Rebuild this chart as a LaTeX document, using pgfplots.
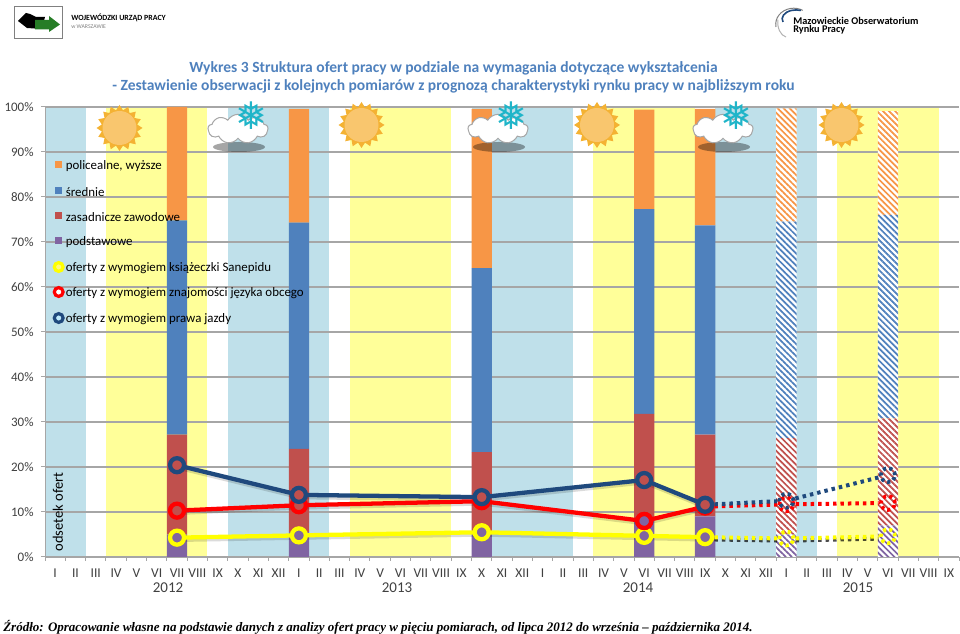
\documentclass[border=0pt]{standalone}
\usepackage{fontspec}
\setmainfont{Carlito}
\newfontfamily\srcfont{Liberation Serif}
\newfontfamily\symfont{DejaVu Sans}
\usepackage{pgfplots}
\usepackage{pgfplotstable}
\pgfplotsset{compat=1.18}
\usetikzlibrary{patterns.meta,shapes.geometric,shapes.symbols}

\definecolor{bandblue}{HTML}{BFE0EA}
\definecolor{bandyellow}{HTML}{FFFF99}
\definecolor{cpol}{HTML}{F79646}
\definecolor{csre}{HTML}{4F81BD}
\definecolor{czas}{HTML}{C0504D}
\definecolor{cpod}{HTML}{8064A2}
\definecolor{lblue}{HTML}{1F497D}
\definecolor{lred}{HTML}{FF0000}
\definecolor{lyellow}{HTML}{FFFF00}
\definecolor{titleblue}{HTML}{4F81BD}
\definecolor{gridgray}{HTML}{A6A6A6}
\definecolor{ticktext}{HTML}{404040}
\definecolor{sunout}{HTML}{F4B233}
\definecolor{sunin}{HTML}{F9C66E}
\definecolor{flake}{HTML}{1FB5C9}

% 1px of the reference = 0.75pt
\def\pxu{0.75pt}
\newcommand{\fs}[1]{\fontsize{\the\dimexpr#1pt*3/4\relax}{\the\dimexpr#1pt*9/10\relax}\selectfont}

\pgfplotstableread{
x pod zas sre pol
6  5.0 22.2 47.6 25.2
12 5.5 18.5 50.3 25.3
21 5.0 18.3 40.9 35.4
29 8.4 23.4 45.5 22.1
32 9.0 18.2 46.5 25.9
}\solidbars
\pgfplotstableread{
x pod zas sre pol
36 5.0 21.4 48.1 25.2
41 7.0 23.8 45.2 23.1
}\forecastbars
\pgfplotstableread{
x blue red yellow
6  20.4 10.3 4.3
12 13.8 11.5 4.8
21 13.3 12.4 5.5
29 17.1  8.0 4.7
32 11.6 11.2 4.4
}\solidlines
\pgfplotstableread{
x blue red yellow
32 11.6 11.2 4.4
36 12.5 11.7 4.1
}\fcA
\pgfplotstableread{
x blue red yellow
36 12.5 11.7 4.1
41 18.2 12.0 4.6
}\fcB

\pgfplotsset{
  frame/.style={at={(33.75pt,57.75pt)},anchor=south west,scale only axis,width=685.5pt,height=337.5pt,
    xmin=-0.5,xmax=44.5,ymin=0,ymax=100},
  band/.style={draw=none,fill=#1},
  solidbar/.style={draw=none,fill=#1},
  hatchbar/.style={draw=none,fill=white,
    postaction={pattern={Lines[angle=-45,distance=3.2pt,line width=1.3pt]},pattern color=#1}},
  solidline/.style={line width=3.2pt,color=#1,mark=*,mark size=5.25pt,mark options={line width=3.1pt}},
  shadowline/.style={line width=3.4pt,black,opacity=0.14,no marks,shift={(0.4pt,-1.6pt)}},
  fcline/.style={line width=3pt,color=#1,no marks,
    dash pattern=on 2.6pt off 3pt,shorten >=7pt,shorten <=7pt},
  fcshadow/.style={line width=3pt,black,opacity=0.7,no marks,shift={(0pt,-1.6pt)},
    dash pattern=on 2.6pt off 3pt,shorten >=7pt,shorten <=7pt},
  fcmark/.style={only marks,mark=o,mark size=5.25pt,color=#1,
    mark options={line width=2.8pt,dash pattern=on 2.4pt off 2.4pt}},
}

\newcommand{\sunicon}[2]{%
  \node[star,star points=16,star point ratio=1.28,minimum size=34.5pt,inner sep=0pt,fill=sunout,draw=none] at (#1,#2) {};
  \fill[sunin] (#1,#2) circle (17);
}
\newcommand{\cloudicon}[2]{%
  \fill[black,opacity=0.35] (#1+1,#2-18) ellipse (26 and 5);
  \node[cloud,cloud puffs=9,cloud puff arc=120,aspect=2.6,minimum width=45pt,minimum height=22pt,inner sep=0pt,
    fill=white,draw=gray!70,line width=0.75pt] at (#1,#2) {};
  \node[text=flake,inner sep=0pt] at (#1+13.5,#2+13) {\symfont\fs{38}❅};
}

\begin{document}
\begin{tikzpicture}[x=\pxu,y=\pxu]
\path[use as bounding box] (0,0) rectangle (960,634);

% logos
\draw[gray,line width=0.75pt,fill=white] (14,595) rectangle (62,627);
\fill[black] (18,613) -- (26,621) -- (30,620) -- (36,617) -- (45,617) -- (42,605) -- (27,606) -- cycle;
\fill[green!40!black!85!white] (35,604.5) -- (49,604.5) -- (49,602) -- (60,609.5) -- (49,618) -- (49,614) -- (35,614) -- cycle;
\node[anchor=west,inner sep=0pt,font=\bfseries\fs{7.9}] at (71,616.5) {WOJEWÓDZKI URZĄD PRACY};
\node[anchor=west,inner sep=0pt,text=gray,font=\fs{5.8}] at (71,607) {w WARSZAWIE};
\draw[gray,line width=0.75pt] (776,607) arc (190:60:18 and 16);
\draw[lblue,line width=1.2pt] (783,612) arc (200:70:14 and 9);
\draw[gray!60,line width=0.75pt] (786,597) arc (260:170:10 and 15);
\node[anchor=west,inner sep=0pt,font=\bfseries\fs{10.3}] at (793,613.5) {Mazowieckie Obserwatorium};
\node[anchor=west,inner sep=0pt,font=\bfseries\fs{10.3}] at (793,604) {Rynku Pracy};

% title
\node[text=titleblue,font=\bfseries\fs{15.55},inner sep=0pt] at (453.5,566) {Wykres 3 Struktura ofert pracy w podziale na wymagania dotyczące wykształcenia};
\node[text=titleblue,font=\bfseries\fs{15.55},inner sep=0pt] at (453.5,548) {- Zestawienie obserwacji z kolejnych pomiarów z prognozą charakterystyki rynku pracy w najbliższym roku};

% seasons, behind the grid
\begin{axis}[frame,hide axis]
\addplot[band=bandblue]   coordinates {(-0.5,100)(1.5,100)}   \closedcycle;
\addplot[band=bandyellow] coordinates {(2.5,100)(7.5,100)}    \closedcycle;
\addplot[band=bandblue]   coordinates {(8.5,100)(13.5,100)}   \closedcycle;
\addplot[band=bandyellow] coordinates {(14.5,100)(19.5,100)}  \closedcycle;
\addplot[band=bandblue]   coordinates {(20.5,100)(25.5,100)}  \closedcycle;
\addplot[band=bandyellow] coordinates {(26.5,100)(31.5,100)}  \closedcycle;
\addplot[band=bandblue]   coordinates {(32.5,100)(37.5,100)}  \closedcycle;
\addplot[band=bandyellow] coordinates {(38.5,100)(43.5,100)}  \closedcycle;
\end{axis}

% measured bars with grid and ticks
\begin{axis}[
  frame,
  ybar stacked,
  bar width=15.2pt,
  axis lines*=left,
  axis line style={gridgray,line width=0.75pt,-},
  ytick={0,10,...,100},
  yticklabel={\pgfmathprintnumber{\tick}\%},
  ymajorgrids,
  grid style={gridgray,line width=0.85pt},
  y tick label style={font=\fs{13},text=ticktext,xshift=-2pt},
  /pgf/number format/assume math mode=true,
  xtick={0,...,44},
  xticklabels={I,II,III,IV,V,VI,VII,VIII,IX,X,XI,XII,I,II,III,IV,V,VI,VII,VIII,IX,X,XI,XII,I,II,III,IV,V,VI,VII,VIII,IX,X,XI,XII,I,II,III,IV,V,VI,VII,VIII,IX},
  x tick label style={font=\fs{13.5},text=ticktext,yshift=-2.6pt},
  major x tick style={draw=none},
  minor xtick={-0.5,0.5,...,44.5},
  minor tick length=3pt,
  major tick length=3pt,
  tick align=outside,
  tick style={gridgray,line width=0.75pt},
]
\addplot[solidbar=cpod] table[x=x,y=pod] {\solidbars};
\addplot[solidbar=czas] table[x=x,y=zas] {\solidbars};
\addplot[solidbar=csre] table[x=x,y=sre] {\solidbars};
\addplot[solidbar=cpol] table[x=x,y=pol] {\solidbars};
\end{axis}

% forecast bars
\begin{axis}[frame,hide axis,ybar stacked,bar width=15.2pt]
\addplot[hatchbar=cpod] table[x=x,y=pod] {\forecastbars};
\addplot[hatchbar=czas] table[x=x,y=zas] {\forecastbars};
\addplot[hatchbar=csre] table[x=x,y=sre] {\forecastbars};
\addplot[hatchbar=cpol] table[x=x,y=pol] {\forecastbars};
\end{axis}

% offer lines
\begin{axis}[frame,hide axis]
\addplot[shadowline] table[x=x,y=blue] {\solidlines};
\addplot[shadowline] table[x=x,y=red] {\solidlines};
\addplot[shadowline] table[x=x,y=yellow] {\solidlines};
\addplot[solidline=lyellow,mark options={fill=cpod}] table[x=x,y=yellow] {\solidlines};
\addplot[solidline=lred,mark options={fill=czas}] table[x=x,y=red] {\solidlines};
\addplot[solidline=lred,only marks,mark indices={4},mark options={fill=cpod}] table[x=x,y=red] {\solidlines};
\addplot[solidline=lblue,mark options={fill=czas}] table[x=x,y=blue] {\solidlines};
\addplot[fcshadow] table[x=x,y=yellow] {\fcA};
\addplot[fcshadow] table[x=x,y=yellow] {\fcB};
\addplot[fcline=lyellow] table[x=x,y=yellow] {\fcA};
\addplot[fcline=lyellow] table[x=x,y=yellow] {\fcB};
\addplot[fcline=lred] table[x=x,y=red] {\fcA};
\addplot[fcline=lred] table[x=x,y=red] {\fcB};
\addplot[fcline=lblue] table[x=x,y=blue] {\fcA};
\addplot[fcline=lblue] table[x=x,y=blue] {\fcB};
\addplot[fcmark=lyellow] table[x=x,y=yellow] {\fcB};
\addplot[fcmark=lred] table[x=x,y=red] {\fcB};
\addplot[fcmark=lblue] table[x=x,y=blue] {\fcB};
\end{axis}

% year labels and y title
\node[font=\fs{15},text=ticktext] at (168,46.5) {2012};
\node[font=\fs{15},text=ticktext] at (397,46.5) {2013};
\node[font=\fs{15},text=ticktext] at (638,46.5) {2014};
\node[font=\fs{15},text=ticktext] at (858,46.5) {2015};
\node[rotate=90,font=\fs{14.5},text=black] at (58,122) {odsetek ofert};

% season icons
\sunicon{119.5}{506}
\cloudicon{238}{505}
\sunicon{361.5}{509}
\cloudicon{498}{505}
\sunicon{597}{509}
\cloudicon{723}{505}
\sunicon{841.5}{509}

% legend
\foreach \ypos/\col/\lab in {469/cpol/{policealne, wyższe},443/csre/{średnie},418/czas/{zasadnicze zawodowe},393/cpod/{podstawowe}}{
  \fill[\col] (55,\ypos-3.5) rectangle (62,\ypos+3.5);
  \node[anchor=west,inner sep=0pt,font=\fs{12.9}] at (65.5,\ypos-1) {\lab};
}
\foreach \ypos/\col/\inner/\lab in {367/lyellow/yellow!50!white/{oferty z wymogiem książeczki Sanepidu},342/lred/white/{oferty z wymogiem znajomości języka obcego},316/lblue/cyan!25!white/{oferty z wymogiem prawa jazdy}}{
  \draw[\col,line width=2.4pt,fill=\inner] (58.7,\ypos) circle (4.4);
  \node[anchor=west,inner sep=0pt,font=\fs{12.9}] at (65.5,\ypos-1) {\lab};
}

% source
\node[anchor=west,inner sep=0pt,font=\srcfont\bfseries\itshape\fs{13}] at (3,7) {Źródło: Opracowanie własne na podstawie danych z analizy ofert pracy w pięciu pomiarach, od lipca 2012 do września – października 2014.};
\end{tikzpicture}
\end{document}
